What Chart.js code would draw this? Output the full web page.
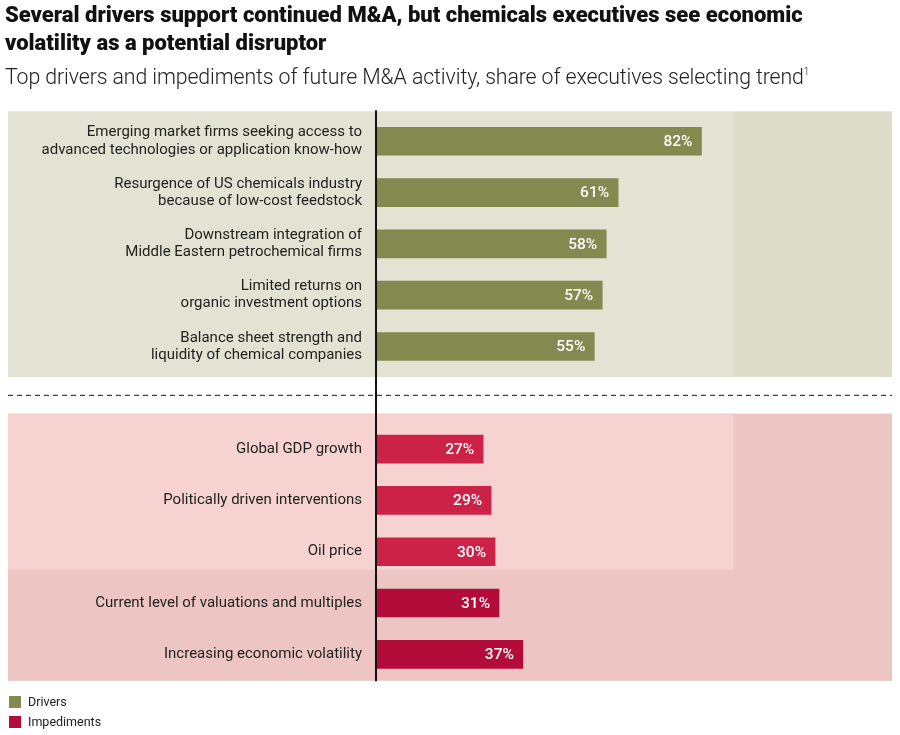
<!DOCTYPE html>
<html>
<head>
<meta charset="utf-8">
<script src="https://cdn.jsdelivr.net/npm/chart.js@4/dist/chart.umd.min.js"></script>
<style>
  html, body { margin: 0; padding: 0; background: #fff; }
  body { width: 900px; height: 735px; position: relative; overflow: hidden; font-family: Roboto, "Open Sans", sans-serif; }
  #chart-wrap { position: absolute; left: 0; top: 0; width: 900px; height: 735px; }
  .title { position: absolute; left: 5px; top: 1px; width: 890px; font-size: 22px; font-weight: 900; line-height: 28px; color: #111; letter-spacing: 0; }
  .subtitle { position: absolute; left: 5px; top: 64px; font-size: 21.3px; font-weight: 300; color: #222; letter-spacing: -0.1px; }
  .subtitle sup { font-size: 10px; vertical-align: 9px; }
  .legend { position: absolute; left: 9px; top: 695px; font-size: 12.5px; color: #222; }
  .legend div { height: 20px; line-height: 14px; display: flex; align-items: flex-start; }
  .legend span.sw { display: inline-block; width: 12px; height: 12px; margin-right: 7px; margin-top: 1px; }
</style>
</head>
<body>
<div id="chart-wrap"><canvas id="chart"></canvas></div>
<div class="title">Several drivers support continued M&amp;A, but chemicals executives see economic<br>volatility as a potential disruptor</div>
<div class="subtitle">Top drivers and impediments of future M&amp;A activity, share of executives selecting trend<sup>1</sup></div>
<div class="legend">
  <div><span class="sw" style="background:#848a4f"></span>Drivers</div>
  <div><span class="sw" style="background:#b30c3a"></span>Impediments</div>
</div>
<script>
// Data
const driverLabels = [
    ['Emerging market firms seeking access to', 'advanced technologies or application know-how'],
    ['Resurgence of US chemicals industry', 'because of low-cost feedstock'],
    ['Downstream integration of', 'Middle Eastern petrochemical firms'],
    ['Limited returns on', 'organic investment options'],
    ['Balance sheet strength and', 'liquidity of chemical companies']
];
const driverValues = [82, 61, 58, 57, 55];

const impedimentLabels = [
    'Global GDP growth',
    'Politically driven interventions',
    'Oil price',
    'Current level of valuations and multiples',
    'Increasing economic volatility'
];
const impedimentValues = [27, 29, 30, 31, 37];

const driverColor = '#848a4f';
const impedimentColors = ['#cd2248', '#cd2248', '#cd2248', '#b30c3a', '#b30c3a'];

// one empty slot between the two groups
const categories = [...driverLabels, '', ...impedimentLabels];
const gap = [null];
const driverData = [...driverValues, ...gap, ...impedimentLabels.map(() => null)];
const impedimentData = [...driverLabels.map(() => null), ...gap, ...impedimentValues];

const backgroundPlugin = {
    id: 'bands',
    // drawn before the scales so the tick labels stay on top
    beforeDraw(chart) {
        const { ctx } = chart;
        const x = chart.scales.x;
        const y = chart.scales.y;
        const left = 8;
        const right = x.right;
        const split = x.getPixelForValue(90);

        // drivers block
        const dTop = y.getPixelForValue(0) - 30;
        const dBottom = y.getPixelForValue(4) + 30.5;
        ctx.save();
        ctx.fillStyle = '#e3e3d4';
        ctx.fillRect(left, dTop, split - left, dBottom - dTop);
        ctx.fillStyle = '#dcdcc9';
        ctx.fillRect(split, dTop, right - split, dBottom - dTop);

        // impediments block
        const iTop = y.getPixelForValue(6) - 35.5;
        const iBottom = y.getPixelForValue(10) + 26.5;
        const iSplit = y.getPixelForValue(8) + 18;
        ctx.fillStyle = '#edc6c4';
        ctx.fillRect(left, iTop, right - left, iBottom - iTop);
        ctx.fillStyle = '#f6d3d1';
        ctx.fillRect(left, iTop, split - left, iSplit - iTop);

        // dashed divider
        const dashY = y.getPixelForValue(5) - 2.5;
        ctx.strokeStyle = '#444';
        ctx.lineWidth = 1.3;
        ctx.setLineDash([5, 4]);
        ctx.beginPath();
        ctx.moveTo(left, dashY);
        ctx.lineTo(right, dashY);
        ctx.stroke();
        ctx.restore();
    },
    afterDraw(chart) {
        const { ctx } = chart;
        const x0 = chart.scales.x.getPixelForValue(0);
        const y = chart.scales.y;
        ctx.save();
        ctx.strokeStyle = '#111';
        ctx.lineWidth = 2;
        ctx.beginPath();
        ctx.moveTo(x0, y.getPixelForValue(0) - 31);
        ctx.lineTo(x0, y.getPixelForValue(10) + 27);
        ctx.stroke();
        ctx.restore();
    }
};

const valueLabelPlugin = {
    id: 'valueLabels',
    afterDatasetsDraw(chart) {
        const { ctx } = chart;
        ctx.save();
        ctx.fillStyle = '#fff';
        ctx.font = '500 15.5px Roboto, "Open Sans", sans-serif';
        ctx.textAlign = 'right';
        ctx.textBaseline = 'middle';
        chart.data.datasets.forEach((ds, di) => {
            chart.getDatasetMeta(di).data.forEach((bar, i) => {
                const v = ds.data[i];
                if (v === null) return;
                ctx.fillText(v + '%', bar.x - 9, bar.y + 1);
            });
        });
        ctx.restore();
    }
};

new Chart(document.getElementById('chart'), {
    type: 'bar',
    data: {
        labels: categories,
        datasets: [
            {
                label: 'Drivers',
                data: driverData,
                backgroundColor: driverColor,
                barThickness: 28,
                grouped: false
            },
            {
                label: 'Impediments',
                data: impedimentData,
                backgroundColor: [...driverLabels.map(() => driverColor), ...gap.map(() => driverColor), ...impedimentColors],
                barThickness: 28,
                grouped: false
            }
        ]
    },
    options: {
        indexAxis: 'y',
        responsive: true,
        maintainAspectRatio: false,
        animation: false,
        layout: { padding: { left: 0, right: 8, top: 115.6, bottom: 55 } },
        plugins: {
            legend: { display: false },
            tooltip: { enabled: false }
        },
        scales: {
            x: {
                display: false,
                min: 0,
                max: 130
            },
            y: {
                grid: { display: false, drawTicks: false },
                border: { display: false },
                afterFit(scale) { scale.width = 376; },
                ticks: {
                    color: '#222',
                    padding: 14,
                    font: { family: 'Roboto, "Open Sans", sans-serif', size: 15, lineHeight: 1.14 }
                }
            }
        }
    },
    plugins: [backgroundPlugin, valueLabelPlugin]
});
</script>
</body>
</html>
